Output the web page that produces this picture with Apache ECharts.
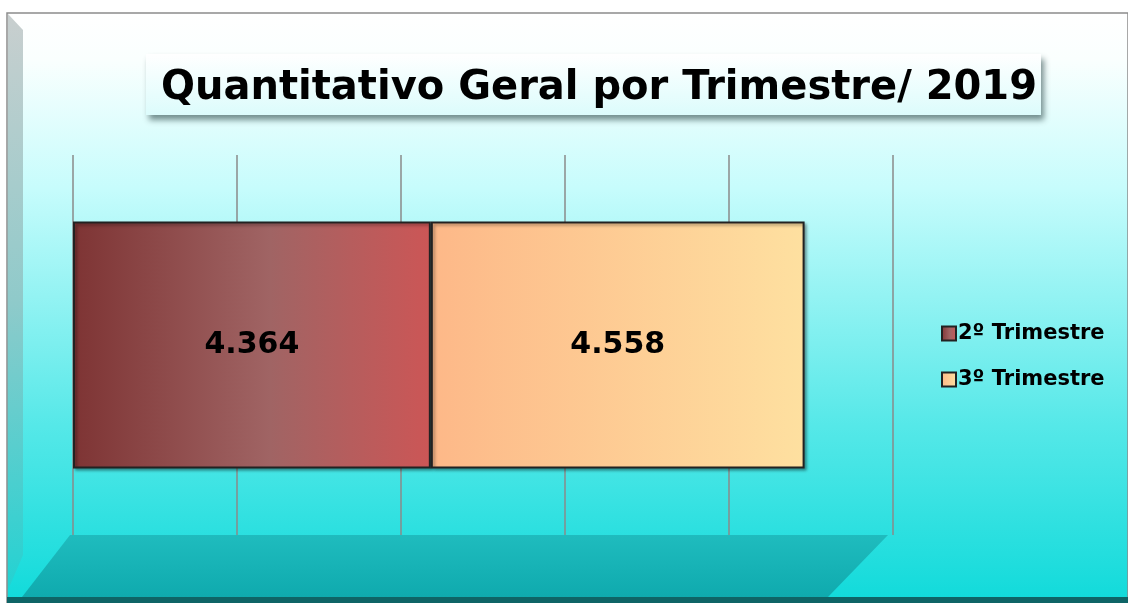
<!DOCTYPE html>
<html>
<head>
<meta charset="utf-8">
<script src="https://cdn.jsdelivr.net/npm/echarts@6/dist/echarts.min.js"></script>
<style>
  html, body { margin: 0; padding: 0; background: #fff; }
  #chart { width: 1128px; height: 603px; }
</style>
</head>
<body>
<div id="chart"></div>
<script>
// dados
var categorias = ['2019'];
var series = ['2º Trimestre', '3º Trimestre'];
var valores2 = [4364];
var valores3 = [4558];

var fonte = "'Century Gothic', 'DejaVu Sans', sans-serif";

function fmt(v) {
	// separador de milhar com ponto
	return String(v).replace(/\B(?=(\d{3})+(?!\d))/g, '.');
}

var chart = echarts.init(document.getElementById('chart'));

var option = {
	title : {
		text : 'Quantitativo Geral por Trimestre/ 2019',
		left : 594,
		top : 84,
		textAlign : 'center',
		textVerticalAlign : 'middle',
		textStyle : {
			fontFamily : fonte,
			fontWeight : 'bold',
			fontSize : 40,
			color : '#000'
		}
	},
	legend : {
		orient : 'vertical',
		left : 936,
		top : 318,
		itemGap : 25,
		itemWidth : 14,
		itemHeight : 14,
		icon : 'rect',
		data : series,
		textStyle : {
			fontFamily : fonte,
			fontWeight : 'bold',
			fontSize : 21,
			color : '#000',
			padding : [0, 0, 0, -3]
		}
	},
	grid : {
		left : 73,
		right : 235,
		top : 155,
		bottom : 68
	},
	xAxis : {
		type : 'value',
		min : 0,
		max : 10000,
		interval : 2000,
		axisLabel : { show : false },
		axisLine : { show : false },
		axisTick : { show : false },
		splitLine : {
			show : true,
			lineStyle : { color : '#8a8a8a', width : 1.5 }
		}
	},
	yAxis : {
		type : 'category',
		data : categorias,
		axisLabel : { show : false },
		axisLine : { show : false },
		axisTick : { show : false }
	},
	graphic : [
		// moldura e fundo
		{
			type : 'rect',
			z : -10,
			shape : { x : 7, y : 13, width : 1121, height : 590 },
			style : {
				fill : {
					type : 'linear', x : 0, y : 0, x2 : 0, y2 : 1,
					colorStops : [
						{ offset : 0, color : '#ffffff' },
						{ offset : 0.08, color : '#fafffe' },
						{ offset : 0.3, color : '#c6fcfc' },
						{ offset : 0.7, color : '#55e8e8' },
						{ offset : 1, color : '#10dada' }
					]
				},
				stroke : '#8c8c8c',
				lineWidth : 1.5
			}
		},
		// parede esquerda
		{
			type : 'polygon',
			z : -9,
			shape : { points : [[8, 14], [23, 30], [23, 555], [8, 590]] },
			style : {
				fill : {
					type : 'linear', x : 0, y : 0, x2 : 0, y2 : 1,
					colorStops : [
						{ offset : 0, color : '#c9cfcf' },
						{ offset : 0.5, color : '#8fcaca' },
						{ offset : 1, color : '#22d2d2' }
					]
				}
			}
		},
		// piso
		{
			type : 'polygon',
			z : -8,
			shape : { points : [[70, 535], [888, 535], [828, 597], [22, 597]] },
			style : {
				fill : {
					type : 'linear', x : 0, y : 0, x2 : 0, y2 : 1,
					colorStops : [
						{ offset : 0, color : '#1fbcbe' },
						{ offset : 1, color : '#0faaae' }
					]
				}
			}
		},
		// faixa inferior
		{
			type : 'rect',
			z : -7,
			shape : { x : 7, y : 597, width : 1121, height : 6 },
			style : { fill : '#0e6466' }
		},
		// caixa do titulo
		{
			type : 'rect',
			z : -5,
			shape : { x : 146, y : 54, width : 895, height : 61 },
			style : {
				fill : {
					type : 'linear', x : 0, y : 0, x2 : 0, y2 : 1,
					colorStops : [
						{ offset : 0, color : '#ffffff' },
						{ offset : 1, color : '#dcfcfc' }
					]
				},
				shadowBlur : 6,
				shadowOffsetX : 3,
				shadowOffsetY : 5,
				shadowColor : 'rgba(40,70,70,0.6)'
			}
		}
	],
	series : [ {
		name : '2º Trimestre',
		type : 'bar',
		stack : 'total',
		barWidth : '65%',
		data : valores2,
		itemStyle : {
			color : {
				type : 'linear', x : 0, y : 0, x2 : 1, y2 : 0,
				colorStops : [
					{ offset : 0, color : '#7e3434' },
					{ offset : 0.55, color : '#a06464' },
					{ offset : 1, color : '#cc5656' }
				]
			},
			borderColor : '#222',
			borderWidth : 2,
			shadowBlur : 3,
			shadowOffsetX : 2,
			shadowOffsetY : 2,
			shadowColor : 'rgba(0,0,0,0.35)'
		},
		label : {
			show : true,
			position : 'inside',
			formatter : function(p) { return fmt(p.value); },
			fontFamily : fonte,
			fontWeight : 'bold',
			fontSize : 30,
			color : '#000'
		}
	}, {
		name : '3º Trimestre',
		type : 'bar',
		stack : 'total',
		barWidth : '65%',
		data : valores3,
		itemStyle : {
			color : {
				type : 'linear', x : 0, y : 0, x2 : 1, y2 : 0,
				colorStops : [
					{ offset : 0, color : '#fdb888' },
					{ offset : 1, color : '#fee0a0' }
				]
			},
			borderColor : '#222',
			borderWidth : 2,
			shadowBlur : 3,
			shadowOffsetX : 2,
			shadowOffsetY : 2,
			shadowColor : 'rgba(0,0,0,0.35)'
		},
		label : {
			show : true,
			position : 'inside',
			formatter : function(p) { return fmt(p.value); },
			fontFamily : fonte,
			fontWeight : 'bold',
			fontSize : 30,
			color : '#000'
		}
	} ]
};

chart.setOption(option);
</script>
</body>
</html>
